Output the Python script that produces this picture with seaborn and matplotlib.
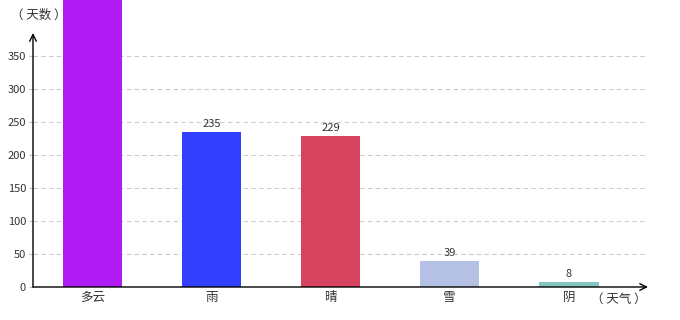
import matplotlib
matplotlib.use("Agg")
import matplotlib.pyplot as plt
import seaborn as sns
import pandas as pd

categories = ["多云", "雨", "晴", "雪", "阴"]
values = [450, 235, 229, 39, 8]
colors = ["#B11BF3", "#3240FE", "#D7435E", "#B5C0E5", "#83C6C2"]
yticks = [0, 50, 100, 150, 200, 250, 300, 350]

sns.set_theme(style="white")
plt.rcParams['font.family'] = ['Noto Sans CJK SC', 'DejaVu Sans']

df = pd.DataFrame({"cat": categories, "val": values})

fig = plt.figure(figsize=(6.8, 3.2), dpi=100)
ax = fig.add_axes([33/680, 33/320, (645-33)/680, (287-33)/320])

sns.barplot(data=df, x="cat", y="val", hue="cat", palette=colors, width=0.5,
            legend=False, ax=ax, saturation=1, linewidth=0)
for p in ax.patches:
    p.set_clip_on(False)

ymax = 385
ax.set_xlim(-0.5, 4.64)
ax.set_ylim(0, ymax)
ax.set_yticks(yticks)
ax.set_yticklabels([str(t) for t in yticks])
for t in yticks[1:]:
    ax.axhline(t, color="#cccccc", lw=0.8, ls=(0, (4, 3)), zorder=0)

for s in ax.spines.values():
    s.set_visible(False)

ax.tick_params(axis="y", length=3, width=0.8, color="#bbbbbb", labelsize=8, labelcolor="#333333", pad=2, left=True)
ax.tick_params(axis="x", length=0, labelsize=9, labelcolor="#333333", pad=3)
ax.set_xlabel("")
ax.set_ylabel("")

for i, v in enumerate(values):
    if v < ymax:
        ax.annotate(str(v), xy=(i, v), xytext=(0, 2), textcoords="offset points",
                    ha="center", va="bottom", fontsize=8, color="#333333", annotation_clip=False)

# axis arrows
ax.annotate("", xy=(0, 1.0), xytext=(0, 0), xycoords="axes fraction",
            arrowprops=dict(arrowstyle="->", color="black", lw=1.0, shrinkA=0, shrinkB=0),
            annotation_clip=False)
ax.annotate("", xy=(615/612, 0), xytext=(0, 0), xycoords="axes fraction",
            arrowprops=dict(arrowstyle="->", color="black", lw=1.0, shrinkA=0, shrinkB=0),
            annotation_clip=False)

fig.text(39/680, 1 - 15/320, "（ 天数 ）", ha="center", va="center", fontsize=9, color="#333333")
fig.text(619/680, 1 - 299/320, "（ 天气 ）", ha="center", va="center", fontsize=9, color="#333333")

fig.savefig("out.png", dpi=100)
